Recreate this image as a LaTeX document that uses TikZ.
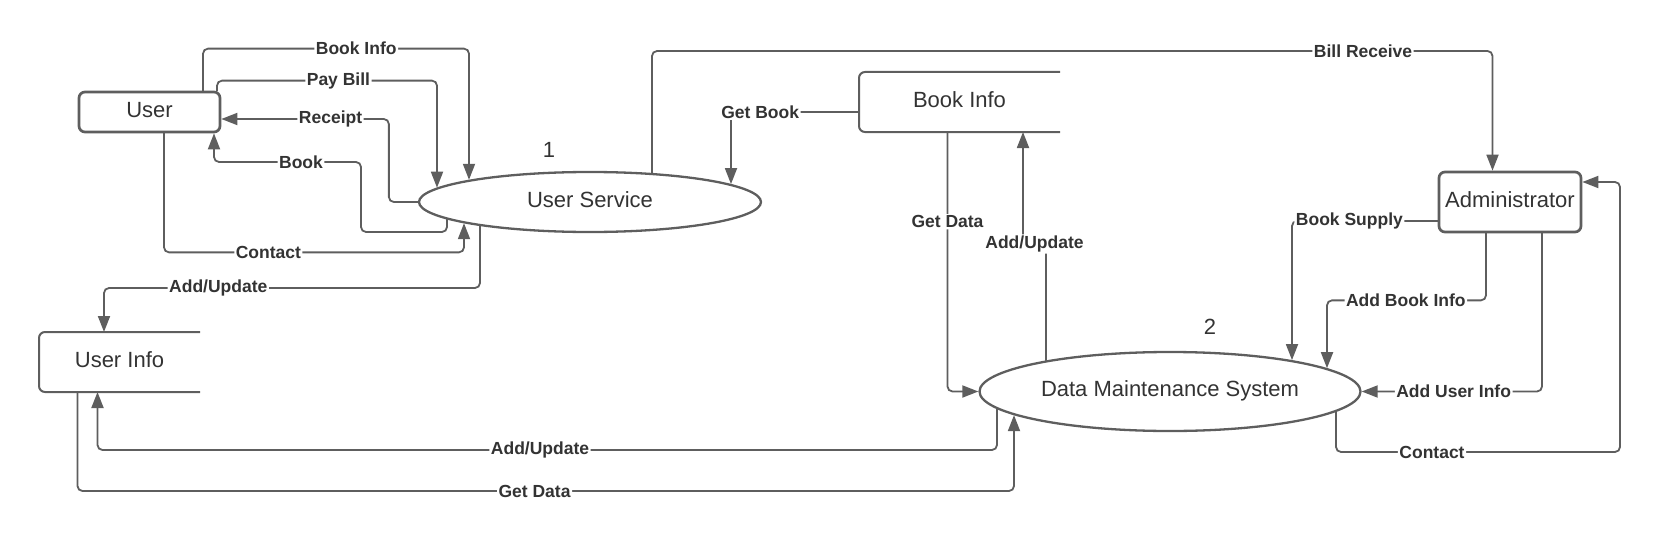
\documentclass[tikz,border=0pt]{standalone}
\usepackage{fontspec}
\setmainfont{Liberation Sans}
\usepackage{tikz}
\usetikzlibrary{arrows.meta,shapes.geometric}
\definecolor{linegray}{RGB}{94,94,94}
\definecolor{textgray}{RGB}{51,51,51}

\begin{document}
\begin{tikzpicture}[x=1pt,y=-1pt,>={Triangle[length=16pt,width=12pt]},line cap=round,
  ent/.style={draw=linegray,line width=2.7pt,rounded corners=6pt,fill=white,text=textgray,
    font=\fontsize{22}{26}\selectfont,inner sep=0pt,text height=16pt,text depth=5.5pt},
  proc/.style={ellipse,draw=linegray,line width=2.3pt,fill=white,text=textgray,
    font=\fontsize{22}{26}\selectfont,inner sep=0pt,text height=16pt,text depth=5.5pt},
  dstore/.style={text=textgray,font=\fontsize{22}{26}\selectfont,inner sep=0pt,outer sep=0pt,
    text height=16pt,text depth=5.5pt},
  storeline/.style={draw=linegray,line width=2pt,rounded corners=6pt,line cap=butt},
  flow/.style={->,draw=linegray,line width=1.8pt,rounded corners=5pt},
  lbl/.style={fill=white,text=textgray,inner sep=1.5pt,font=\fontsize{17.5}{20}\selectfont\bfseries},
  num/.style={text=textgray,font=\fontsize{22}{26}\selectfont}]
\useasboundingbox (0,0) rectangle (1663,543);

\node[ent,minimum width=141,minimum height=40] (user) at (149.5,112) {User};
\node[proc,minimum width=342,minimum height=60] (usersvc) at (590,202) {User Service};
\node[dstore,minimum width=201,minimum height=60] (bookinfo) at (959.5,102) {Book Info};
\node[dstore,minimum width=161,minimum height=60] (userinfo) at (119.5,362) {User Info};
\node[ent,minimum width=142,minimum height=60] (admin) at (1510,202) {Administrator};
\node[proc,minimum width=381,minimum height=79] (dms) at (1170,391.5) {Data Maintenance System};
\node[num] (n1) at (549,150) {1};
\node[num] (n2) at (1210,327) {2};

\draw[storeline] (bookinfo.north east) -- (bookinfo.north west) -- (bookinfo.south west) -- (bookinfo.south east);
\draw[storeline] (userinfo.north east) -- (userinfo.north west) -- (userinfo.south west) -- (userinfo.south east);

\draw[flow] ([xshift=53.5]user.north) -- ++(0,-42) -| node[lbl,pos=0.288]{Book Info} ([shift={(-121,-22.2)}]usersvc.center);
\draw[flow] ([xshift=67.5]user.north) -- ++(0,-10) -| node[lbl,pos=0.276]{Pay Bill} ([shift={(-153,-14.3)}]usersvc.center);
\draw[flow] (usersvc.west) -- ++(-29,0) |- node[lbl,pos=0.674]{Receipt} ([yshift=-7]user.east);
\draw[flow] ([shift={(-143,17.3)}]usersvc.center) -- ++(0,12.7) -- ++(-86,0) -- ++(0,-70) -| node[lbl,pos=0.204]{Book} ([xshift=64.5]user.south);
\draw[flow] ([xshift=14.5]user.south) -- ++(0,119) -| node[lbl,pos=0.174]{Contact} ([shift={(-126,21.2)}]usersvc.center);
\draw[flow] ([shift={(-110,24)}]usersvc.center) -- ++(0,62) -| node[lbl,pos=0.348]{Add/Update} ([xshift=-15.5]userinfo.north);
\draw[flow] ([yshift=-10]bookinfo.west) -| node[lbl,pos=0.386]{Get Book} ([shift={(141,-17.9)}]usersvc.center);
\draw[flow] ([shift={(62,-29.1)}]usersvc.center) -- ++(0,-121.9) -| node[lbl,pos=0.423]{Bill Receive} ([xshift=-17.5]admin.north);
\draw[flow] ([xshift=-12]bookinfo.south) |- node[lbl,pos=0.173]{Get Data} (dms.west);
\draw[flow] ([shift={(-124,-31)}]dms.center) -- ++(0,-116.5) -| node[lbl,pos=0.25]{Add/Update} ([xshift=63.5]bookinfo.south);
\draw[flow] ([yshift=-19]admin.west) -| node[lbl,pos=0.303]{Book Supply} ([shift={(122,-31.4)}]dms.center);
\draw[flow] ([xshift=-24]admin.south) -- ++(0,67) -| node[lbl,pos=0.252]{Add Book Info} ([shift={(157,-23.3)}]dms.center);
\draw[flow] ([xshift=32]admin.south) |- node[lbl,pos=0.745]{Add User Info} (dms.east);
\draw[flow] ([shift={(166,20.3)}]dms.center) -- ++(0,40.2) -- node[lbl,pos=0.338]{Contact} ++(284,0) |- ([yshift=20]admin.east);
\draw[flow] ([shift={(-173,17.5)}]dms.center) -- ++(0,41) -| node[lbl,pos=0.254]{Add/Update} ([xshift=-22]userinfo.south);
\draw[flow] ([xshift=-42]userinfo.south) -- ++(0,99) -| node[lbl,pos=0.244]{Get Data} ([shift={(-156,23.6)}]dms.center);
\end{tikzpicture}
\end{document}
